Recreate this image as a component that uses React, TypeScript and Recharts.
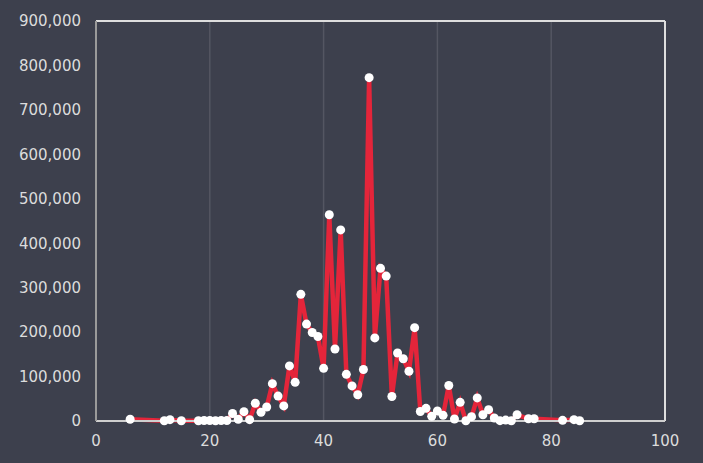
import { LineChart, Line, XAxis, YAxis, CartesianGrid, ReferenceLine } from "recharts";

const xs = [
  6, 12, 13, 15, 18, 19, 20, 21, 22, 23, 24, 25, 26, 27, 28, 29, 30, 31, 32, 33, 34, 35, 36, 37, 38, 39,
  40, 41, 42, 43, 44, 45, 46, 47, 48, 49, 50, 51, 52, 53, 54, 55, 56, 57, 58, 59, 60, 61, 62, 63, 64,
  65, 66, 67, 68, 69, 70, 71, 72, 73, 74, 76, 77, 82, 84, 85,
];
const values = [
  4000, 500, 3000, 500, 500, 1000, 1000, 500, 1000, 1000, 17000, 4000, 21000, 3000, 40000, 19500,
  31500, 84000, 56000, 34000, 124000, 87000, 285000, 218000, 199000, 190000, 118500, 464000, 162000,
  430000, 105000, 79000, 59000, 116000, 772500, 187000, 343500, 326000, 55000, 153000, 140000, 112000,
  210000, 21500, 28500, 10500, 22500, 12800, 80000, 4500, 42000, 500, 9700, 52000, 14000, 25500, 6800,
  700, 2000, 500, 14000, 5000, 5000, 1500, 3000, 500,
];
const xTicks = [0, 20, 40, 60, 80, 100];
const yTicks = [0, 100000, 200000, 300000, 400000, 500000, 600000, 700000, 800000, 900000];

const data = xs.map((x, i) => ({ x, y: values[i] }));

const BG = "#3d404d";
const RED = "#e4253a";
const font = "'DejaVu Sans', sans-serif";

export default function App() {
  return (
    <div style={{ position: "absolute", left: 0, top: 0, width: 703, height: 463, background: BG }}>
      <LineChart width={703} height={463} data={data} margin={{ top: 21, right: 38, bottom: 0, left: 0 }}>
        <CartesianGrid horizontal={false} stroke="#545662" strokeWidth={1.5} />
        <ReferenceLine y={900000} stroke="#dedede" strokeWidth={2} />
        <ReferenceLine x={100} stroke="#dedede" strokeWidth={2} />
        <XAxis
          dataKey="x"
          type="number"
          domain={[0, 100]}
          ticks={xTicks}
          height={42}
          tickSize={0}
          tickMargin={14}
          axisLine={{ stroke: "#cfcfcf", strokeWidth: 2 }}
          tick={{ fill: "#dcdcdc", fontSize: 15, fontFamily: font }}
        />
        <YAxis
          type="number"
          domain={[0, 900000]}
          ticks={yTicks}
          width={96}
          tickSize={0}
          tickMargin={15}
          axisLine={{ stroke: "#9a9a9a", strokeWidth: 2 }}
          tickFormatter={(v: number) => v.toLocaleString("en-US")}
          tick={{ fill: "#dcdcdc", fontSize: 15, fontFamily: font }}
        />
        <Line
          dataKey="y"
          stroke={RED}
          strokeWidth={4.5}
          isAnimationActive={false}
          dot={{ r: 4.5, fill: "#ffffff", stroke: "none" }}
          activeDot={false}
        />
      </LineChart>
    </div>
  );
}
